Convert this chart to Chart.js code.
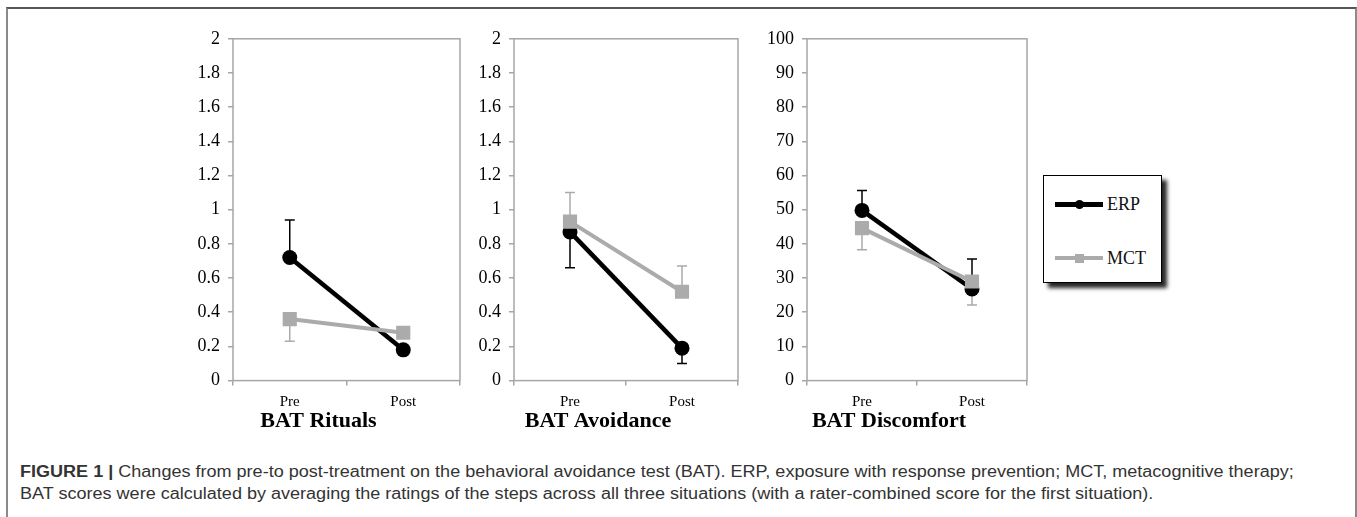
<!DOCTYPE html>
<html>
<head>
<meta charset="utf-8">
<script src="https://cdn.jsdelivr.net/npm/chart.js@4.4.1/dist/chart.umd.min.js"></script>
<style>
  body { margin: 0; width: 1357px; height: 517px; overflow: hidden; background: #fff; position: relative; font-family: "Liberation Serif", serif; }
  .frame { position: absolute; left: 6px; top: 7px; width: 1347px; height: 530px; border: 2px solid #8a8a8a; border-top-color: #555; border-bottom: none; }
  canvas { position: absolute; }
  .legend { position: absolute; left: 1043px; top: 175px; width: 117px; height: 106px; border: 1.5px solid #000; background: #fff; box-shadow: 5px 5px 4px rgba(0,0,0,0.85); }
  .abs { position: absolute; }
  .legtext { position: absolute; font-size: 18px; color: #111; line-height: 20px; }
  .caption { position: absolute; left: 20px; font-family: "Liberation Sans Narrow", "Liberation Sans", sans-serif; font-size: 16px; color: #333; white-space: nowrap; transform-origin: 0 50%; line-height: 18px; }
</style>
</head>
<body>
<div class="frame"></div>
<canvas id="rituals" width="297" height="418" style="left:173px; top:20px;"></canvas>
<canvas id="avoidance" width="294" height="418" style="left:454px; top:20px;"></canvas>
<canvas id="discomfort" width="290" height="418" style="left:747px; top:20px;"></canvas>

<div class="legend"></div>
<div class="abs" style="left:1055px; top:201.5px; width:48px; height:5px; background:#000;"></div>
<div class="abs" style="left:1074.5px; top:199.5px; width:9px; height:9px; border-radius:50%; background:#000;"></div>
<div class="legtext" style="left:1107px; top:194px;">ERP</div>
<div class="abs" style="left:1055px; top:256px; width:48px; height:4px; background:#ababab;"></div>
<div class="abs" style="left:1074.5px; top:253.5px; width:9px; height:9px; background:#ababab;"></div>
<div class="legtext" style="left:1107px; top:248px;">MCT</div>

<div class="caption" id="cap1" style="top:463px;"><b>FIGURE 1 |</b> Changes from pre-to post-treatment on the behavioral avoidance test (BAT). ERP, exposure with response prevention; MCT, metacognitive therapy;</div>
<div class="caption" id="cap2" style="top:485px;">BAT scores were calculated by averaging the ratings of the steps across all three situations (with a rater-combined score for the first situation).</div>

<script>
"use strict";

// categories and panel titles
const categories = ["Pre", "Post"];
const panelTitles = ["BAT Rituals", "BAT Avoidance", "BAT Discomfort"];
const seriesNames = ["ERP", "MCT"];

// means
const ritualsERP = [0.72, 0.18];
const ritualsMCT = [0.36, 0.28];
const avoidanceERP = [0.87, 0.19];
const avoidanceMCT = [0.93, 0.52];
const discomfortERP = [49.8, 26.8];
const discomfortMCT = [44.6, 29.0];

// where each (one-sided) error bar ends, null = hidden behind the marker
const ritualsERPErr = [0.94, null];
const ritualsMCTErr = [0.23, null];
const avoidanceERPErr = [0.66, 0.10];
const avoidanceMCTErr = [1.10, 0.67];
const discomfortERPErr = [55.6, 35.6];
const discomfortMCTErr = [38.3, 22.1];

// tick labels
const smallTicks = [0, 0.2, 0.4, 0.6, 0.8, 1, 1.2, 1.4, 1.6, 1.8, 2];
const smallTickLabels = ["0", "0.2", "0.4", "0.6", "0.8", "1", "1.2", "1.4", "1.6", "1.8", "2"];
const bigTicks = [0, 10, 20, 30, 40, 50, 60, 70, 80, 90, 100];
const bigTickLabels = ["0", "10", "20", "30", "40", "50", "60", "70", "80", "90", "100"];

const ERP_COLOR = "#000000";
const MCT_COLOR = "#ababab";
const AXIS_COLOR = "#a6a6a6";

// error bars go under the lines and markers
const errorBars = {
    id: "errorBars",
    beforeDatasetsDraw(chart) {
        const ctx = chart.ctx;
        const yScale = chart.scales.y;
        chart.data.datasets.forEach(function (ds, i) {
            const meta = chart.getDatasetMeta(i);
            ds.errorEnd.forEach(function (v, j) {
                if (v === null) return;
                const pt = meta.data[j];
                const yEnd = yScale.getPixelForValue(v);
                ctx.save();
                ctx.strokeStyle = ds.borderColor;
                ctx.lineWidth = 1.5;
                ctx.beginPath();
                ctx.moveTo(pt.x, pt.y);
                ctx.lineTo(pt.x, yEnd);
                ctx.moveTo(pt.x - 5, yEnd);
                ctx.lineTo(pt.x + 5, yEnd);
                ctx.stroke();
                ctx.restore();
            });
        });
    }
};

// the grey box round the plot area
const plotBox = {
    id: "plotBox",
    beforeDatasetsDraw(chart) {
        const a = chart.chartArea;
        const ctx = chart.ctx;
        ctx.save();
        ctx.strokeStyle = AXIS_COLOR;
        ctx.lineWidth = 1.5;
        ctx.strokeRect(a.left, a.top, a.right - a.left, a.bottom - a.top);
        ctx.restore();
    }
};

function makePanel(id, title, erp, mct, erpErr, mctErr, ticks, tickLabels) {
    new Chart(document.getElementById(id), {
        type: "line",
        data: {
            labels: categories,
            datasets: [
                {
                    label: seriesNames[0],
                    data: erp,
                    errorEnd: erpErr,
                    borderColor: ERP_COLOR,
                    backgroundColor: ERP_COLOR,
                    borderWidth: 4.5,
                    pointStyle: "circle",
                    pointRadius: 7.5,
                    pointBorderWidth: 0,
                    order: 1
                },
                {
                    label: seriesNames[1],
                    data: mct,
                    errorEnd: mctErr,
                    borderColor: MCT_COLOR,
                    backgroundColor: MCT_COLOR,
                    borderWidth: 4,
                    pointStyle: "rect",
                    pointRadius: 10,
                    pointBorderWidth: 0,
                    order: 0
                }
            ]
        },
        options: {
            responsive: false,
            animation: false,
            layout: { padding: { top: 18, right: 6, left: 0, bottom: 0 } },
            scales: {
                x: {
                    offset: true,
                    border: { display: false },
                    grid: { offset: true, drawOnChartArea: false, tickLength: 5, color: AXIS_COLOR, lineWidth: 1.5 },
                    ticks: { color: "#000", padding: 7, font: { family: "Liberation Serif", size: 15 } },
                    afterFit: function (scale) { scale.height = 28; }
                },
                y: {
                    min: ticks[0],
                    max: ticks[ticks.length - 1],
                    border: { display: false },
                    grid: { drawOnChartArea: false, tickLength: 5, color: AXIS_COLOR, lineWidth: 1.5 },
                    afterBuildTicks: function (scale) {
                        scale.ticks = ticks.map(function (v) { return { value: v }; });
                    },
                    ticks: {
                        color: "#000",
                        padding: 8,
                        font: { family: "Liberation Serif", size: 18 },
                        callback: function (value, index) { return tickLabels[index]; }
                    },
                    afterFit: function (scale) { scale.width = 60; }
                }
            },
            plugins: {
                legend: { display: false },
                tooltip: { enabled: false },
                title: {
                    display: true,
                    position: "bottom",
                    text: title,
                    color: "#000",
                    font: { family: "Liberation Serif", size: 22, weight: "bold" },
                    padding: { top: 0, bottom: 3 }
                }
            }
        },
        plugins: [plotBox, errorBars]
    });
}

makePanel("rituals", panelTitles[0], ritualsERP, ritualsMCT, ritualsERPErr, ritualsMCTErr, smallTicks, smallTickLabels);
makePanel("avoidance", panelTitles[1], avoidanceERP, avoidanceMCT, avoidanceERPErr, avoidanceMCTErr, smallTicks, smallTickLabels);
makePanel("discomfort", panelTitles[2], discomfortERP, discomfortMCT, discomfortERPErr, discomfortMCTErr, bigTicks, bigTickLabels);

// the caption in the picture is stretched sideways, fit line 1 to its width
const cap1 = document.getElementById("cap1");
const cap2 = document.getElementById("cap2");
const stretch = 1274 / cap1.offsetWidth;
cap1.style.transform = "scaleX(" + stretch + ")";
cap2.style.transform = "scaleX(" + stretch + ")";
</script>
</body>
</html>
